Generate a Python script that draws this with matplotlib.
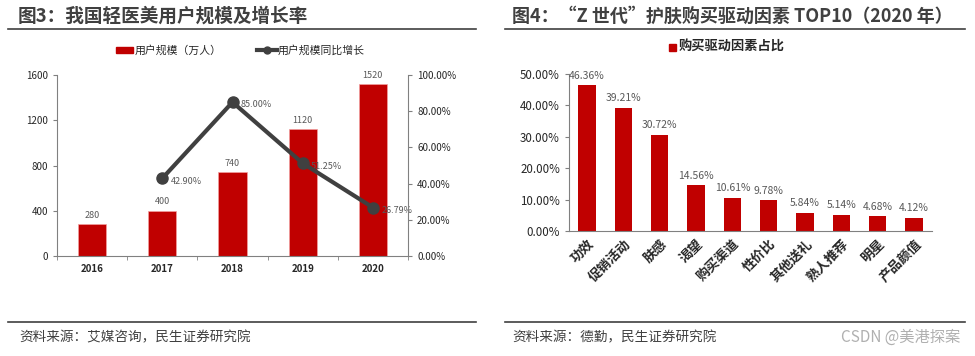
import matplotlib
matplotlib.use("Agg")
import matplotlib.pyplot as plt
from matplotlib.lines import Line2D
from matplotlib.patches import Rectangle

plt.rcParams['font.family'] = ['Noto Sans CJK SC', 'DejaVu Sans']

# 数据：图3
years = ['2016', '2017', '2018', '2019', '2020']
users = [280, 400, 740, 1120, 1520]
growth_years = [1, 2, 3, 4]
growth = [42.90, 85.00, 51.25, 26.79]

# 数据：图4
factors = ['功效', '促销活动', '肤感', '渴望', '购买渠道', '性价比', '其他送礼', '熟人推荐', '明星', '产品颜值']
shares = [46.36, 39.21, 30.72, 14.56, 10.61, 9.78, 5.84, 5.14, 4.68, 4.12]

RED = '#C00000'
DARK = '#404040'
GREY = '#595959'
W, H = 975, 356

fig = plt.figure(figsize=(W / 100, H / 100), dpi=100)


def box(x0, y_top, x1, y_bot):
    return [x0 / W, 1 - y_bot / H, (x1 - x0) / W, (y_bot - y_top) / H]


def hline(x0, x1, y, lw=1.2):
    fig.add_artist(Line2D([x0 / W, x1 / W], [1 - y / H, 1 - y / H], color=DARK, lw=lw))


# 标题和分隔线
fig.text(18 / W, 1 - 16 / H, '图3：我国轻医美用户规模及增长率', fontsize=13.4, fontweight='bold',
         color=DARK, va='center', ha='left')
fig.text(512 / W, 1 - 16 / H, '图4：“Z 世代”护肤购买驱动因素 TOP10（2020 年）', fontsize=13,
         fontweight='bold', color=DARK, va='center', ha='left')
hline(8, 476, 29)
hline(505, 965, 29)
hline(8, 476, 322)
hline(505, 965, 322)
fig.text(19 / W, 1 - 337 / H, '资料来源：艾媒咨询，民生证券研究院', fontsize=9.8, color=DARK, va='center')
fig.text(512 / W, 1 - 337 / H, '资料来源：德勤，民生证券研究院', fontsize=9.8, color=DARK, va='center')
fig.text(960 / W, 1 - 337 / H, 'CSDN @美港探案', fontsize=11, color='#b0b0b0', va='center', ha='right')

# ---- 图3 ----
ax1 = fig.add_axes(box(57, 75, 408, 256))
x = list(range(len(years)))
ax1.bar(x, users, width=0.4, color=RED, edgecolor='#f2a0a0', lw=0.5, zorder=2)
for xi, v in zip(x, users):
    ax1.text(xi, v + 40, str(v), ha='center', va='bottom', fontsize=6.5, color=GREY)
ax1.set_xlim(-0.5, 4.5)
ax1.set_ylim(0, 1600)
ax1.set_yticks([0, 400, 800, 1200, 1600])
ax1.set_xticks(x)
ax1.set_xticklabels(years, fontsize=7, fontweight='bold', color='#262626')
ax1.set_xticks([i + 0.5 for i in range(-1, 5)], minor=True)
ax1.tick_params(axis='x', which='major', length=0, pad=6)
ax1.tick_params(axis='x', which='minor', length=3, color='#808080')
ax1.tick_params(axis='y', labelsize=7, length=3, color='#808080', labelcolor='#262626')
for s in ['top', 'right']:
    ax1.spines[s].set_visible(False)
for s in ['left', 'bottom']:
    ax1.spines[s].set_color('#808080')

ax2 = ax1.twinx()
ax2.plot(growth_years, growth, color=DARK, lw=3, marker='o', ms=8, zorder=3)
for xi, v in zip(growth_years, growth):
    ax2.annotate(f'{v:.2f}%', (xi, v), xytext=(6, -2), textcoords='offset points',
                 ha='left', va='center', fontsize=6.5, color=GREY, zorder=1)
ax2.set_ylim(0, 100)
ax2.set_yticks([0, 20, 40, 60, 80, 100])
ax2.set_yticklabels([f'{t:.2f}%' for t in [0, 20, 40, 60, 80, 100]])
ax2.tick_params(axis='y', labelsize=7, length=3, color='#808080', labelcolor='#262626')
for s in ['top', 'left', 'bottom']:
    ax2.spines[s].set_visible(False)
ax2.spines['right'].set_color('#808080')

# 图3 图例
fig.add_artist(Rectangle((116 / W, 1 - 53 / H), 17 / W, 6 / H, color=RED))
fig.text(135 / W, 1 - 50 / H, '用户规模（万人）', fontsize=7.8, color='#262626', va='center')
fig.add_artist(Line2D([257 / W, 277 / W], [1 - 50 / H] * 2, color=DARK, lw=3))
fig.add_artist(Line2D([267 / W], [1 - 50 / H], color=DARK, marker='o', ms=5))
fig.text(278 / W, 1 - 50 / H, '用户规模同比增长', fontsize=7.8, color='#262626', va='center')

# ---- 图4 ----
ax3 = fig.add_axes(box(569, 74, 932, 231))
xf = list(range(len(factors)))
ax3.bar(xf, shares, width=0.48, color=RED, zorder=2)
for xi, v in zip(xf, shares):
    ax3.text(xi, v + 1.5, f'{v:.2f}%', ha='center', va='bottom', fontsize=7.5, color=GREY)
ax3.set_xlim(-0.5, 9.5)
ax3.set_ylim(0, 50)
ax3.set_yticks([0, 10, 20, 30, 40, 50])
ax3.set_yticklabels([f'{t:.2f}%' for t in [0, 10, 20, 30, 40, 50]])
ax3.set_xticks(xf)
ax3.set_xticklabels(factors, rotation=45, ha='right', rotation_mode='anchor', fontsize=9.5,
                    fontweight='bold', color='#262626')
ax3.tick_params(axis='x', length=0, pad=4)
ax3.tick_params(axis='y', labelsize=8.3, length=3, color='#808080', labelcolor='#262626')
for s in ['top', 'right']:
    ax3.spines[s].set_visible(False)
for s in ['left', 'bottom']:
    ax3.spines[s].set_color('#808080')

fig.add_artist(Rectangle((669 / W, 1 - 51 / H), 7 / W, 7 / H, color=RED))
fig.text(679 / W, 1 - 47 / H, '购买驱动因素占比', fontsize=9.5, fontweight='bold', color='#262626', va='center')

fig.savefig('out.png', dpi=100)
